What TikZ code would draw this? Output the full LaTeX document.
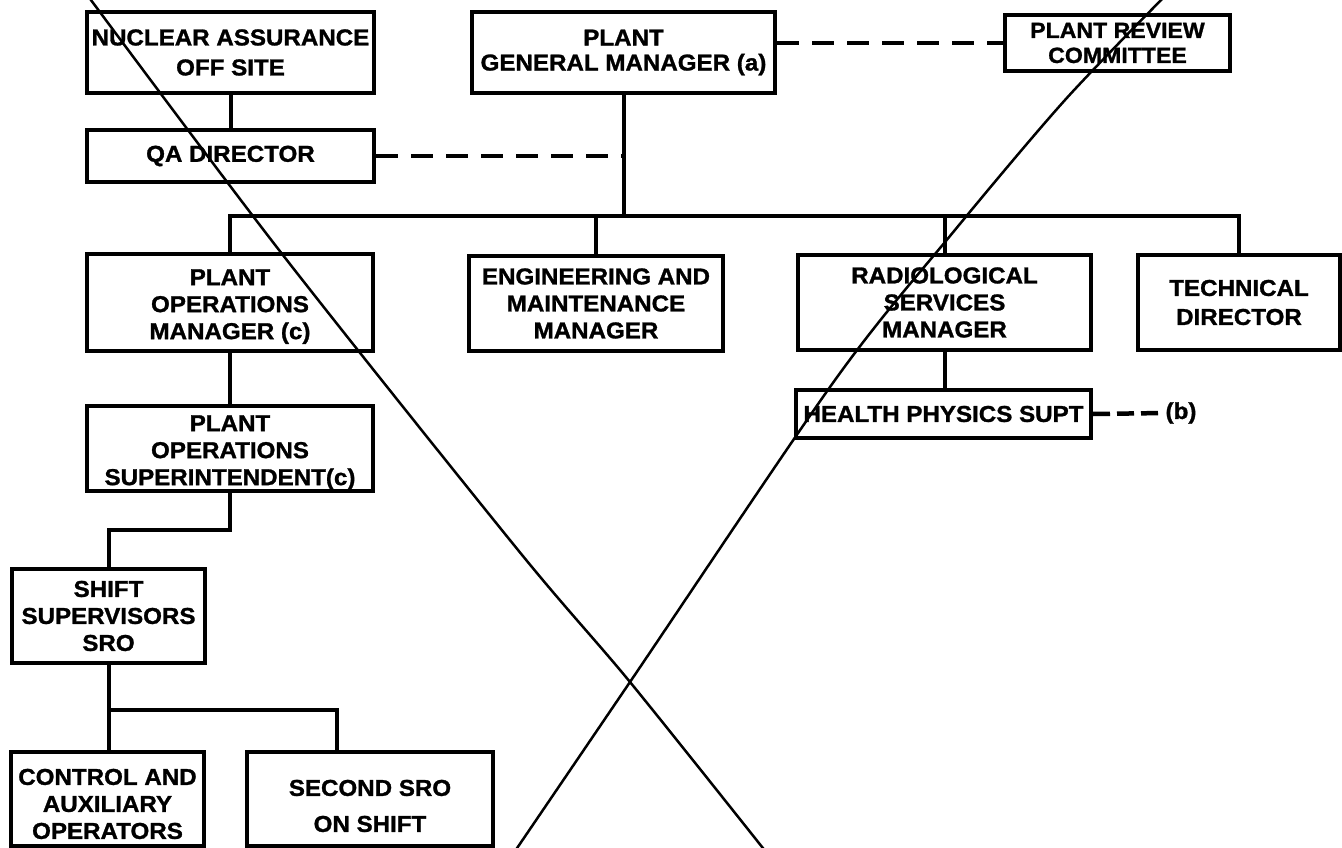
\documentclass[tikz,border=0pt]{standalone}
\usepackage{fontspec}
\newfontfamily\lab{Liberation Sans}[FakeStretch=1.05, BoldFeatures={FakeBold=1.2}]
\newcommand{\lbl}[1]{\lab\bfseries\fontsize{23}{#1}\selectfont}
\newcommand{\tp}[1]{\rule{0pt}{#1pt}}
\begin{document}
\begin{tikzpicture}[x=1pt,y=-1pt,
  box/.style={draw, line width=4pt, inner sep=0pt, align=center, font=\lbl{27}},
  conn/.style={line width=4pt},
  dsh/.style={line width=4.5pt, dash pattern=on 22pt off 13pt},
  dshs/.style={line width=4.5pt, dash pattern=on 17pt off 7pt},
  xline/.style={line width=2.5pt, line join=round}]
\useasboundingbox (0,0) rectangle (1342,848);
\fill[white] (0,0) rectangle (1342,848);
\clip (0,0) rectangle (1342,848);

% boxes
\node[box, font=\lbl{30}, minimum width=287pt, minimum height=81pt] (na) at (230.5,52.5) {NUCLEAR ASSURANCE\\OFF SITE};
\node[box, font=\lbl{25}, minimum width=303pt, minimum height=81pt] (pgm) at (623.5,52.5) {PLANT\\GENERAL MANAGER (a)};
\node[box, font={\lab\bfseries\fontsize{22}{25}\selectfont}, minimum width=225pt, minimum height=56pt] (prc) at (1117.5,43) {PLANT REVIEW\\COMMITTEE};
\node[box, minimum width=287pt, minimum height=52pt] (qa) at (230.5,156) {QA DIRECTOR};
\node[box, minimum width=286pt, minimum height=97pt] (pom) at (230,302) {\tp{25}PLANT\\OPERATIONS\\MANAGER (c)};
\node[box, minimum width=254pt, minimum height=95pt] (emm) at (596,303.5) {ENGINEERING AND\\MAINTENANCE\\MANAGER};
\node[box, minimum width=293pt, minimum height=95pt] (rsm) at (944.5,302.5) {RADIOLOGICAL\\SERVICES\\MANAGER};
\node[box, font=\lbl{29}, minimum width=202pt, minimum height=95pt] (td) at (1239,302.5) {TECHNICAL\\DIRECTOR};
\node[box, minimum width=295pt, minimum height=48pt] (hps) at (943.5,414) {HEALTH PHYSICS SUPT};
\node[box, minimum width=286pt, minimum height=85pt] (pos) at (230,448.5) {\tp{24}PLANT\\OPERATIONS\\SUPERINTENDENT(c)};
\node[box, minimum width=193pt, minimum height=94pt] (ss) at (108.5,616) {SHIFT\\SUPERVISORS\\SRO};
\node[box, minimum width=193pt, minimum height=94pt] (cao) at (107.5,799) {\tp{26}CONTROL AND\\AUXILIARY\\OPERATORS};
\node[box, font=\lbl{36}, minimum width=246pt, minimum height=94pt] (sec) at (370,799) {\tp{30}SECOND SRO\\ON SHIFT};
\node[inner sep=0pt, font=\lbl{27}] (bnote) at (1181,413) {(b)};

% connectors
\coordinate (busL) at (230,216);
\coordinate (busR) at (1239,216);
\coordinate (ssj) at (0,710);
\draw[conn] (na.south) -- (qa.north);
\draw[conn] (pgm.south) -- (pgm.south |- busL);
\draw[conn, line cap=rect] (busL) -- (busR);
\draw[conn] (pom.north |- busL) -- (pom.north);
\draw[conn] (emm.north |- busL) -- (emm.north);
\draw[conn] (rsm.north |- busL) -- (rsm.north);
\draw[conn] (td.north |- busL) -- (td.north);
\draw[conn] (rsm.south) -- (rsm.south |- hps.north);
\draw[conn] (pom.south) -- (pos.north);
\draw[conn, line join=miter] (pos.south) -- ++(0,37) -| (ss.north);
\draw[conn] (ss.south) -- (ss.south |- cao.north);
\draw[conn, line join=miter] (ss.south |- ssj) -| ([xshift=-33pt]sec.north);
\draw[dsh] (qa.east) -- (qa.east -| pgm.south);
\draw[dsh] (pgm.east |- prc.west) -- (prc.west);
\draw[dshs] (hps.east) -- ([xshift=-1pt]bnote.west);

% cross-out lines
\draw[xline] plot[smooth] coordinates {(85,-8) (279,250) (518,550) (630,682) (770,857)};
\draw[xline] plot[smooth] coordinates {(1171,-10) (1065,100) (950,236) (835,380) (630,682) (511,857)};
\end{tikzpicture}
\end{document}
